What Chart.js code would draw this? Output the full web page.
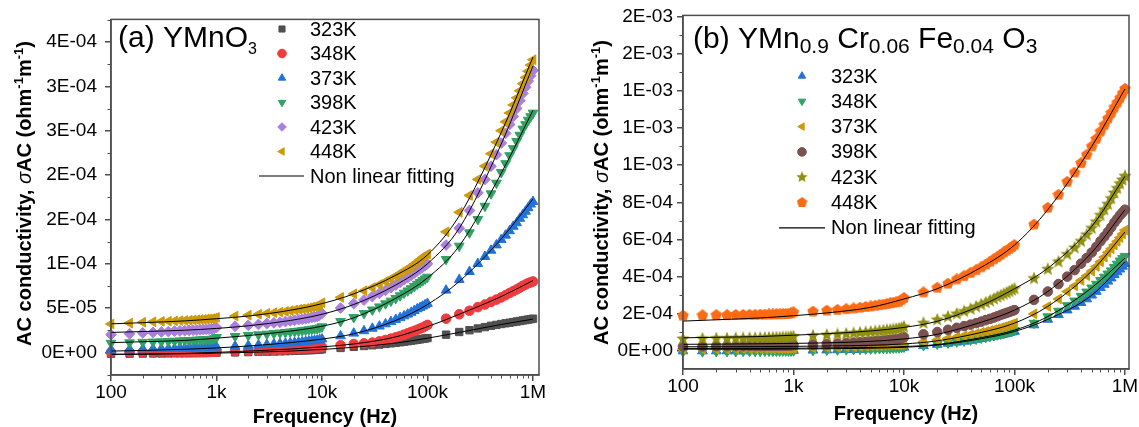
<!DOCTYPE html>
<html><head><meta charset="utf-8">
<script src="https://cdn.jsdelivr.net/npm/chart.js@4.4.1/dist/chart.umd.min.js"></script>
<style>
html,body{margin:0;padding:0;background:#fff;overflow:hidden;}
#wrap{position:relative;width:1139px;height:427px;}
.box{position:absolute;top:0;height:427px;}
#boxA{left:0;width:565px;}
#boxB{left:570px;width:569px;}
</style></head><body>
<div id="wrap">
  <div class="box" id="boxA"><canvas id="cA"></canvas></div>
  <div class="box" id="boxB"><canvas id="cB"></canvas></div>
</div>
<script>
// ---------- DATA ----------
const freq = [
  100,150,200,250,300,350,400,450,500,550,600,650,700,750,800,850,900,950,
  1000,1500,2000,2500,3000,3500,4000,4500,5000,5500,6000,6500,7000,7500,8000,8500,9000,9500,
  10000,15000,20000,25000,30000,35000,40000,45000,50000,55000,60000,65000,70000,75000,80000,85000,90000,95000,
  100000,150000,200000,250000,300000,350000,400000,450000,500000,550000,600000,650000,700000,750000,800000,850000,900000,950000,
  1000000];
const fitFreq = [100,200,500,1e3,2e3,5e3,1e4,2e4,5e4,1e5,2e5,5e5,1e6];

const tempLabels = ['323K','348K','373K','398K','423K','448K'];
const xTickVals = [100,1e3,1e4,1e5,1e6];
const xTickLabels = ['100','1k','10k','100k','1M'];

// Panel (a) YMnO3, values in units of 1E-05 ohm^-1 m^-1
const UNIT_A = 1e-5;
const a323 = [-0.15,-0.14,-0.13,-0.12,-0.12,-0.11,-0.1,-0.1,-0.09,-0.09,-0.08,-0.08,-0.07,-0.07,-0.06,-0.06,-0.05,-0.04,
  -0.03,0,0.03,0.06,0.08,0.1,0.12,0.14,0.16,0.18,0.2,0.22,0.23,0.25,0.26,0.28,0.3,0.32,
  0.35,0.5,0.62,0.72,0.8,0.88,0.95,1.02,1.08,1.14,1.2,1.26,1.32,1.37,1.42,1.47,1.52,1.57,
  1.62,2.0,2.3,2.5,2.7,2.85,3.0,3.1,3.2,3.28,3.35,3.42,3.48,3.54,3.6,3.65,3.7,3.75, 3.8];
const a348 = [0,0,0.02,0.02,0.03,0.03,0.04,0.04,0.05,0.05,0.06,0.06,0.07,0.07,0.08,0.08,0.09,0.09,
  0.1,0.14,0.18,0.21,0.24,0.27,0.3,0.33,0.35,0.38,0.4,0.43,0.45,0.48,0.5,0.53,0.55,0.58,
  0.6,0.8,0.95,1.02,1.1,1.25,1.4,1.55,1.7,1.85,2.0,2.15,2.3,2.42,2.55,2.68,2.8,2.95,
  3.1,3.8,4.3,4.7,5.1,5.4,5.7,5.95,6.2,6.45,6.7,6.9,7.1,7.3,7.5,7.65,7.8,7.9, 8.0];
const a373 = [0.33,0.36,0.38,0.4,0.42,0.44,0.45,0.47,0.48,0.49,0.5,0.51,0.52,0.54,0.55,0.56,0.57,0.59,
  0.62,0.7,0.77,0.83,0.88,0.93,0.98,1.02,1.06,1.1,1.14,1.18,1.22,1.26,1.3,1.33,1.37,1.42,
  1.5,1.85,2.15,2.42,2.7,2.95,3.2,3.45,3.7,3.9,4.1,4.3,4.5,4.7,4.9,5.05,5.2,5.35,
  5.5,7.0,8.2,9.1,10.0,10.8,11.5,12.1,12.7,13.2,13.7,14.2,14.6,15.1,15.5,15.9,16.3,16.7, 17.0];
const a398 = [1.05,1.1,1.15,1.19,1.22,1.25,1.28,1.31,1.33,1.36,1.38,1.4,1.42,1.44,1.46,1.48,1.5,1.55,
  1.7,1.82,1.92,2.0,2.08,2.14,2.2,2.26,2.32,2.37,2.42,2.47,2.52,2.57,2.62,2.66,2.7,2.78,
  2.9,3.5,3.95,4.4,4.8,5.15,5.5,5.8,6.1,6.4,6.7,6.95,7.2,7.45,7.7,7.9,8.1,8.3,
  8.5,10.5,12.0,13.5,15.0,16.5,17.9,19.1,20.3,21.3,22.2,23.0,23.8,24.5,25.2,25.7,26.2,26.6, 27.0];
const a423 = [2.0,2.1,2.2,2.25,2.3,2.35,2.4,2.42,2.45,2.48,2.5,2.52,2.55,2.58,2.6,2.62,2.65,2.7,
  2.8,2.95,3.05,3.15,3.25,3.33,3.4,3.48,3.55,3.62,3.7,3.75,3.8,3.88,3.95,4.0,4.05,4.2,
  4.4,5.0,5.5,5.9,6.3,6.65,7.0,7.3,7.6,7.9,8.2,8.45,8.7,8.95,9.2,9.4,9.6,9.8,
  10.0,12.1,14.0,16.0,18.0,19.5,21.0,22.3,23.6,24.7,25.7,26.6,27.5,28.4,29.2,29.9,30.6,31.2, 31.8];
const a448 = [3.2,3.3,3.4,3.45,3.5,3.52,3.55,3.58,3.6,3.62,3.65,3.68,3.7,3.72,3.75,3.78,3.8,3.85,
  3.95,4.1,4.2,4.3,4.4,4.48,4.55,4.62,4.7,4.78,4.85,4.9,4.95,5.02,5.1,5.15,5.2,5.35,
  5.6,6.2,6.6,6.95,7.3,7.65,8.0,8.3,8.6,8.9,9.2,9.45,9.7,9.95,10.2,10.45,10.7,10.9,
  11.1,13.6,15.8,17.7,19.5,21.0,22.4,23.7,25.0,26.0,27.0,27.9,28.7,29.5,30.3,31.0,31.7,32.4, 33.0];
// fitted curves (a), at fitFreq
const fa323 = [-0.22,-0.2,-0.15,-0.08,0.0,0.15,0.33,0.58,1.05,1.6,2.25,3.15,3.75];
const fa348 = [-0.22,-0.2,-0.12,0.0,0.15,0.38,0.62,0.95,1.75,2.9,4.3,6.3,8.1];
const fa373 = [0.15,0.22,0.35,0.5,0.72,1.1,1.5,2.1,3.6,5.4,8.0,12.8,17.3];
const fa398 = [1.1,1.2,1.35,1.6,1.9,2.4,2.95,3.9,6.1,8.4,12.0,20.2,27.3];
const fa423 = [2.25,2.35,2.5,2.7,3.0,3.6,4.3,5.4,7.6,10.0,14.0,23.5,32.3];
const fa448 = [3.22,3.35,3.55,3.8,4.1,4.75,5.5,6.6,8.7,11.0,15.4,24.8,33.3];
const yTickValsA = [0,5e-5,1e-4,1.5e-4,2e-4,2.5e-4,3e-4,3.5e-4];
const yTickLabelsA = ['0E+00','5E-05','1E-04','2E-04','2E-04','3E-04','3E-04','4E-04'];

// Panel (b) YMn0.9Cr0.06Fe0.04O3, values in units of 1E-04 ohm^-1 m^-1
const UNIT_B = 1e-4;
const b323 = [0,0,0,0,0,0,0.01,0.01,0.01,0.01,0.01,0.01,0.01,0.02,0.02,0.02,0.02,0.02,
  0.03,0.04,0.05,0.06,0.07,0.08,0.09,0.1,0.11,0.12,0.13,0.13,0.14,0.15,0.16,0.16,0.17,0.18,
  0.2,0.28,0.35,0.41,0.47,0.52,0.57,0.62,0.66,0.7,0.75,0.79,0.83,0.87,0.91,0.94,0.98,1.02,
  1.05,1.4,1.7,1.95,2.2,2.4,2.6,2.8,3.0,3.2,3.4,3.58,3.75,3.92,4.1,4.25,4.4,4.55, 4.7];
const b348 = [-0.03,-0.03,-0.02,-0.02,-0.02,-0.01,-0.01,-0.01,-0.01,0,0,0,0,0,0.01,0.01,0.01,0.01,
  0.02,0.04,0.06,0.07,0.08,0.09,0.1,0.11,0.12,0.13,0.14,0.15,0.15,0.16,0.17,0.18,0.18,0.2,
  0.22,0.3,0.38,0.44,0.5,0.55,0.6,0.65,0.7,0.75,0.8,0.84,0.88,0.92,0.96,1.0,1.04,1.08,
  1.12,1.5,1.85,2.15,2.45,2.7,2.95,3.18,3.4,3.6,3.8,3.98,4.15,4.32,4.5,4.68,4.85,4.98, 5.1];
const b373 = [0.1,0.1,0.1,0.1,0.11,0.11,0.11,0.11,0.12,0.12,0.12,0.12,0.13,0.13,0.13,0.13,0.14,0.14,
  0.15,0.17,0.19,0.2,0.22,0.23,0.25,0.26,0.27,0.28,0.29,0.3,0.31,0.32,0.33,0.34,0.35,0.37,
  0.4,0.5,0.6,0.68,0.75,0.82,0.88,0.94,1.0,1.05,1.1,1.15,1.2,1.25,1.3,1.35,1.4,1.45,
  1.5,2.0,2.4,2.8,3.2,3.5,3.8,4.05,4.3,4.55,4.8,5.05,5.3,5.5,5.7,5.9,6.1,6.3, 6.5];
const b398 = [0.25,0.25,0.26,0.26,0.26,0.26,0.27,0.27,0.27,0.27,0.28,0.28,0.28,0.28,0.29,0.29,0.3,0.3,
  0.32,0.35,0.38,0.4,0.43,0.45,0.47,0.49,0.51,0.53,0.55,0.56,0.58,0.6,0.62,0.63,0.65,0.7,
  0.75,0.9,1.02,1.14,1.25,1.34,1.42,1.5,1.58,1.66,1.73,1.8,1.87,1.94,2.0,2.05,2.1,2.15,
  2.2,2.75,3.2,3.6,4.0,4.35,4.7,5.0,5.3,5.6,5.9,6.15,6.4,6.65,6.9,7.1,7.3,7.45, 7.6];
const b423 = [0.65,0.66,0.67,0.67,0.68,0.68,0.69,0.69,0.7,0.7,0.71,0.71,0.72,0.72,0.73,0.73,0.74,0.75,
  0.78,0.82,0.86,0.89,0.92,0.95,0.98,1.0,1.03,1.05,1.08,1.1,1.12,1.14,1.16,1.18,1.2,1.25,
  1.3,1.5,1.68,1.84,2.0,2.13,2.25,2.38,2.5,2.6,2.7,2.8,2.9,2.98,3.05,3.12,3.2,3.28,
  3.35,3.9,4.4,4.8,5.2,5.55,5.9,6.25,6.6,6.95,7.3,7.6,7.9,8.2,8.5,8.75,9.0,9.2, 9.4];
const b448 = [1.9,1.92,1.93,1.93,1.94,1.94,1.95,1.95,1.96,1.96,1.97,1.97,1.98,1.98,1.99,1.99,2.0,2.03,
  2.08,2.12,2.17,2.21,2.25,2.29,2.33,2.37,2.4,2.44,2.47,2.5,2.53,2.57,2.6,2.62,2.65,2.75,
  2.85,3.15,3.4,3.62,3.85,4.03,4.2,4.35,4.5,4.65,4.8,4.93,5.05,5.18,5.3,5.4,5.5,5.6,
  5.7,6.8,7.7,8.4,9.1,9.6,10.1,10.55,11.0,11.4,11.8,12.15,12.5,12.8,13.1,13.35,13.6,13.85, 14.1];
const fb323 = [0.1,0.1,0.1,0.11,0.12,0.15,0.2,0.32,0.66,1.05,1.7,3.0,4.8];
const fb348 = [0.14,0.14,0.14,0.15,0.16,0.19,0.24,0.35,0.72,1.12,1.85,3.4,5.0];
const fb373 = [0.23,0.23,0.24,0.25,0.27,0.31,0.38,0.55,1.0,1.5,2.4,4.3,6.4];
const fb398 = [0.36,0.37,0.39,0.41,0.44,0.52,0.65,0.9,1.55,2.2,3.2,5.3,7.6];
const fb423 = [0.71,0.74,0.78,0.85,0.93,1.08,1.27,1.6,2.45,3.35,4.45,6.7,9.4];
const fb448 = [1.61,1.68,1.78,1.9,2.05,2.35,2.8,3.35,4.5,5.7,7.6,11.0,14.1];
const yTickValsB = [0,2e-4,4e-4,6e-4,8e-4,1e-3,1.2e-3,1.4e-3,1.6e-3,1.8e-3];
const yTickLabelsB = ['0E+00','2E-04','4E-04','6E-04','8E-04','1E-03','1E-03','1E-03','2E-03','2E-03'];

// ---------- STYLE ----------
const FONT = "'Liberation Sans', Arial, Helvetica, sans-serif";
const AXIS = '#4d4d4d';
const C = {gray:'#505050', red:'#ef3b3d', blue:'#2272d9', green:'#30a264', purple:'#a97fdd',
           gold:'#cc9a0a', brown:'#7b5151', olive:'#8f8f12', orange:'#fd6a14'};
const RADIUS = {triangle:5.6, rectRot:5.4, rect:5.2, circle:4.8};

function shapeCanvas(kind, color, size){
  const c = document.createElement('canvas'); c.width = size; c.height = size;
  const g = c.getContext('2d'); g.fillStyle = color; g.beginPath();
  const n = kind === 'star' ? 10 : 5, cx = size/2, cy = size/2;
  for (let i = 0; i < n; i++) {
    const r = kind === 'star' ? (i % 2 ? size*0.22 : size*0.5) : size*0.5;
    const a = -Math.PI/2 + i*2*Math.PI/n;
    const px = cx + r*Math.cos(a), py = cy + r*Math.sin(a);
    i ? g.lineTo(px, py) : g.moveTo(px, py);
  }
  g.closePath(); g.fill(); return c;
}
const starImg = shapeCanvas('star', C.olive, 14);
const pentImg = shapeCanvas('pent', C.orange, 12);
const starLeg = shapeCanvas('star', C.olive, 12);
const pentLeg = shapeCanvas('pent', C.orange, 11);

function pts(xs, ys, unit){ return xs.map((x,i)=>({x:x, y:ys[i]*unit})); }
function markerSet(label, vals, unit, color, style, rot, order){
  return {label, data: pts(freq, vals, unit), showLine:false, pointStyle:style, rotation:rot,
    pointRadius: RADIUS[style] || 5, pointBorderWidth:1, backgroundColor:color, borderColor:color, order, clip:false};
}
function fitSet(vals, unit){
  return {label:'fit', data: pts(fitFreq, vals, unit), showLine:true, pointRadius:0, borderColor:'#000',
    backgroundColor:'#000', borderWidth:1, cubicInterpolationMode:'monotone', order:0};
}

const panelCfg = {};

function drawMarker(ctx, st, x, y){
  if (st.style instanceof HTMLCanvasElement) {
    ctx.drawImage(st.style, x - st.style.width/2, y - st.style.height/2); return;
  }
  ctx.fillStyle = st.color; ctx.strokeStyle = st.color; ctx.lineWidth = 1;
  Chart.helpers.drawPoint(ctx, {pointStyle: st.style, rotation: st.rot, radius: 4.3, borderWidth: 1}, x, y);
}

const decor = {
  id:'decor',
  afterDraw(chart){
    const cfg = panelCfg[chart.canvas.id]; if (!cfg) return;
    const ctx = chart.ctx, ca = chart.chartArea, xs = chart.scales.x, ys = chart.scales.y;
    ctx.save();
    // frame
    ctx.strokeStyle = AXIS; ctx.lineWidth = 1.5;
    ctx.strokeRect(ca.left, ca.top, ca.right - ca.left, ca.bottom - ca.top);
    // minor ticks
    ctx.lineWidth = 1; ctx.beginPath();
    for (let d = 100; d < 1e6; d *= 10) for (let k = 2; k <= 9; k++) {
      const px = Math.round(xs.getPixelForValue(d*k)) + 0.5;
      ctx.moveTo(px, ca.bottom); ctx.lineTo(px, ca.bottom + 3.5);
    }
    for (let v = cfg.minorStart; v < ys.max; v += cfg.minorStep) {
      if (v <= ys.min) continue;
      const py = Math.round(ys.getPixelForValue(v)) + 0.5;
      ctx.moveTo(ca.left, py); ctx.lineTo(ca.left - 3.5, py);
    }
    ctx.stroke();
    // legend
    const L = cfg.legend;
    ctx.font = '20px ' + FONT; ctx.textBaseline = 'middle'; ctx.textAlign = 'left';
    L.items.forEach((st, i) => {
      const y = L.y0 + i*L.dy;
      drawMarker(ctx, st, L.mx, y);
      ctx.fillStyle = '#000'; ctx.fillText(tempLabels[i], L.tx, y + 1);
    });
    const fy = L.y0 + 6*L.dy;
    ctx.strokeStyle = '#000'; ctx.lineWidth = 1.2; ctx.beginPath();
    ctx.moveTo(L.lx0, fy); ctx.lineTo(L.lx1, fy); ctx.stroke();
    ctx.fillStyle = '#000'; ctx.fillText('Non linear fitting', L.tx, fy + 1);
    // panel title with subscripts
    ctx.textBaseline = 'alphabetic';
    let x = cfg.title.x;
    cfg.title.parts.forEach(p => {
      ctx.font = p.size + 'px ' + FONT; ctx.fillText(p.t, x, cfg.title.y + (p.dy || 0));
      x += ctx.measureText(p.t).width;
    });
    // x axis title
    ctx.font = 'bold 20px ' + FONT; ctx.textAlign = 'center';
    ctx.fillText('Frequency (Hz)', (ca.left + ca.right)/2, cfg.xTitleY);
    // y axis title (rotated)
    const parts = [
      {t:'AC conductivity, ', f:'bold 20px '+FONT},
      {t:'\u03C3', f:'italic 20px '+FONT},
      {t:'AC (ohm', f:'bold 20px '+FONT},
      {t:'-1', f:'bold 13px '+FONT, dy:-8},
      {t:'m', f:'bold 20px '+FONT},
      {t:'-1', f:'bold 13px '+FONT, dy:-8},
      {t:')', f:'bold 20px '+FONT}];
    ctx.textAlign = 'left';
    let total = 0;
    parts.forEach(p => { ctx.font = p.f; p.w = ctx.measureText(p.t).width; total += p.w; });
    ctx.translate(cfg.yTitle.x, cfg.yTitle.y); ctx.rotate(-Math.PI/2);
    let xx = -total/2;
    parts.forEach(p => { ctx.font = p.f; ctx.fillText(p.t, xx, p.dy || 0); xx += p.w; });
    ctx.restore();
  }
};

function makeChart(id, opt){
  panelCfg[id] = opt.decor;
  return new Chart(document.getElementById(id), {
    type:'scatter',
    data:{datasets: opt.datasets},
    options:{
      responsive:true, maintainAspectRatio:false, animation:false, events:[],
      layout:{padding:{left:0, right:opt.padRight, top:opt.padTop, bottom:0}},
      plugins:{legend:{display:false}, tooltip:{enabled:false}},
      scales:{
        x:{type:'logarithmic', position:'bottom', min:100, max:opt.xMax,
          grid:{drawOnChartArea:false, drawTicks:true, tickLength:6, color:AXIS, lineWidth:1.5},
          border:{display:true, color:AXIS, width:1.5},
          ticks:{font:{family:FONT, size:19}, color:'#000', padding:0, maxRotation:0, minRotation:0, autoSkip:false,
            callback:(v)=>{const i = xTickVals.indexOf(v); return i < 0 ? '' : xTickLabels[i];}},
          afterBuildTicks:(s)=>{ s.ticks = xTickVals.map(v=>({value:v})); },
          afterFit:(s)=>{ s.height = opt.xAxisH; }
        },
        y:{type:'linear', position:'left', min:opt.yMin, max:opt.yMax,
          grid:{drawOnChartArea:false, drawTicks:true, tickLength:6, color:AXIS, lineWidth:1.5},
          border:{display:true, color:AXIS, width:1.5},
          ticks:{font:{family:FONT, size:19}, color:'#000', padding:opt.yPad,
            callback:(v, i)=>opt.yLabels[i]},
          afterBuildTicks:(s)=>{ s.ticks = opt.yTicks.map(v=>({value:v})); },
          afterFit:(s)=>{ s.width = opt.yAxisW; }
        }
      }
    },
    plugins:[decor]
  });
}

// Panel (a)
makeChart('cA', {
  padRight:26, padTop:14, xAxisH:52, yAxisW:111, yPad:8,
  xMax:1.14e6, yMin:-2.55e-5, yMax:3.755e-4, yTicks:yTickValsA, yLabels:yTickLabelsA,
  datasets:[
    fitSet(fa448,UNIT_A), fitSet(fa423,UNIT_A), fitSet(fa398,UNIT_A), fitSet(fa373,UNIT_A), fitSet(fa348,UNIT_A), fitSet(fa323,UNIT_A),
    markerSet('448K', a448, UNIT_A, C.gold, 'triangle', -90, 1),
    markerSet('423K', a423, UNIT_A, C.purple, 'rectRot', 0, 2),
    markerSet('398K', a398, UNIT_A, C.green, 'triangle', 180, 3),
    markerSet('373K', a373, UNIT_A, C.blue, 'triangle', 0, 4),
    markerSet('348K', a348, UNIT_A, C.red, 'circle', 0, 5),
    markerSet('323K', a323, UNIT_A, C.gray, 'rect', 0, 6)
  ],
  decor:{
    minorStart:-2.5e-5, minorStep:5e-5,
    legend:{mx:282, tx:310, y0:29, dy:24.5, lx0:259, lx1:304, items:[
      {style:'rect', rot:0, color:C.gray}, {style:'circle', rot:0, color:C.red},
      {style:'triangle', rot:0, color:C.blue}, {style:'triangle', rot:180, color:C.green},
      {style:'rectRot', rot:0, color:C.purple}, {style:'triangle', rot:-90, color:C.gold}]},
    title:{x:118, y:47, parts:[{t:'(a) YMnO', size:30}, {t:'3', size:16, dy:7}]},
    xTitleY:423, yTitle:{x:31, y:193.5}
  }
});

// Panel (b)
makeChart('cB', {
  padRight:10, padTop:15, xAxisH:58, yAxisW:113, yPad:4,
  xMax:1.087e6, yMin:-0.967e-4, yMax:1.805e-3, yTicks:yTickValsB, yLabels:yTickLabelsB,
  datasets:[
    fitSet(fb448,UNIT_B), fitSet(fb423,UNIT_B), fitSet(fb398,UNIT_B), fitSet(fb373,UNIT_B), fitSet(fb348,UNIT_B), fitSet(fb323,UNIT_B),
    markerSet('448K', b448, UNIT_B, C.orange, pentImg, 0, 1),
    markerSet('423K', b423, UNIT_B, C.olive, starImg, 0, 2),
    markerSet('398K', b398, UNIT_B, C.brown, 'circle', 0, 3),
    markerSet('373K', b373, UNIT_B, C.gold, 'triangle', -90, 4),
    markerSet('348K', b348, UNIT_B, C.green, 'triangle', 180, 5),
    markerSet('323K', b323, UNIT_B, C.blue, 'triangle', 0, 6)
  ],
  decor:{
    minorStart:-1e-4, minorStep:2e-4,
    legend:{mx:232, tx:261, y0:76, dy:25.3, lx0:209, lx1:255, items:[
      {style:'triangle', rot:0, color:C.blue}, {style:'triangle', rot:180, color:C.green},
      {style:'triangle', rot:-90, color:C.gold}, {style:'circle', rot:0, color:C.brown},
      {style:starLeg, rot:0, color:C.olive}, {style:pentLeg, rot:0, color:C.orange}]},
    title:{x:123, y:48, parts:[{t:'(b) YMn', size:30}, {t:'0.9', size:21, dy:5}, {t:' Cr', size:30},
      {t:'0.06', size:21, dy:5}, {t:' Fe', size:30}, {t:'0.04', size:21, dy:5}, {t:' O', size:30}, {t:'3', size:21, dy:5}]},
    xTitleY:420, yTitle:{x:38, y:192.5}
  }
});
</script>
</body></html>
